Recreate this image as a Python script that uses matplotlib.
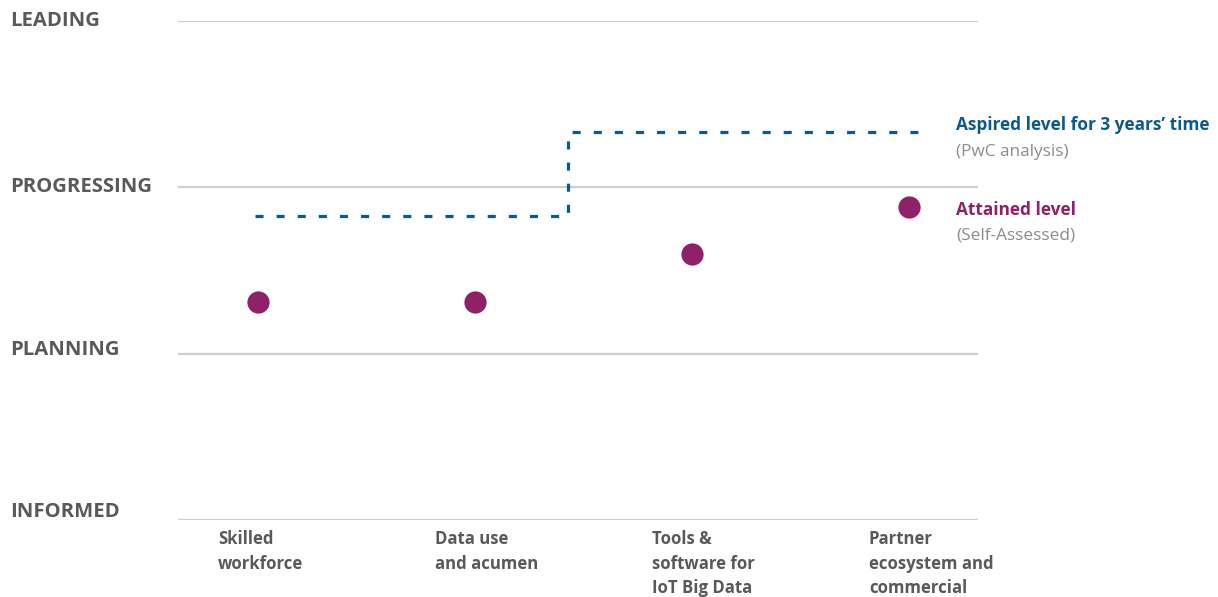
import matplotlib
matplotlib.use("Agg")
import matplotlib.pyplot as plt
import matplotlib.transforms as mtransforms

plt.rcParams['font.family'] = ['Open Sans', 'DejaVu Sans']
plt.rcParams['lines.scale_dashes'] = False

# Maturity scale and capability areas
levels = ["INFORMED", "PLANNING", "PROGRESSING", "LEADING"]
categories = ["Skilled\nworkforce", "Data use\nand acumen",
              "Tools &\nsoftware for\nIoT Big Data",
              "Partner\necosystem and\ncommercial"]
attained = [1.31, 1.31, 1.60, 1.88]
aspired = [1.83, 1.83, 2.33, 2.33]

PURPLE = "#8E2167"
BLUE = "#0B5A8C"
DARK = "#58595B"
LIGHT = "#8C8C8C"
GRID = "#CFCFCF"

W, H = 1218, 597
fig = plt.figure(figsize=(W / 100, H / 100), dpi=100)

# axes spans the plotting band between the level lines
left_px, right_px = 178, 978
top_px, bottom_px = 21, 520
ax = fig.add_axes([left_px / W, 1 - bottom_px / H,
                   (right_px - left_px) / W, (bottom_px - top_px) / H])
ax.set_xlim(-80 / 217, 720 / 217)
ax.set_ylim(0, 3)
ax.axis("off")

# horizontal level lines
for i in range(len(levels)):
    ax.axhline(i, color=GRID, lw=1.6, zorder=1)

# level labels at the left edge of the figure
blend = mtransforms.blended_transform_factory(fig.transFigure, ax.transData)
label_shift = [0.05, 0.02, 0.0, 0.0]
for i, name in enumerate(levels):
    ax.text(10 / W, i + label_shift[i], name, transform=blend, ha="left",
            va="center", fontsize=14.6, fontweight="bold", color=DARK,
            clip_on=False)

# aspired level as a stepped dashed line
xs = list(range(len(categories)))
step_at = 1.43
x_line = [xs[0] - 0.015, step_at, step_at, xs[-1] + 0.05]
y_line = [aspired[1], aspired[1], aspired[2], aspired[3]]
line, = ax.plot(x_line, y_line, color=BLUE, lw=2.3, zorder=2,
                solid_joinstyle="miter")
line.set_dashes((5.8, 9.4))
line.set_dash_capstyle("butt")

# attained level markers
ax.plot(xs, attained, "o", color=PURPLE, ms=16, mec="none", zorder=3)

# category labels below the axis
for x, cat in zip(xs, categories):
    ax.annotate(cat, xy=(x, 0), xytext=(-40, -10), textcoords="offset pixels",
                ha="left", va="top", fontsize=12.1, fontweight="bold",
                color=DARK, linespacing=1.47, annotation_clip=False)

# legend annotations on the right
legend_items = [
    ("Aspired level for 3 years\u2019 time", 125, "bold", BLUE, aspired[-1]),
    ("(PwC analysis)", 152, "normal", LIGHT, aspired[-1]),
    ("Attained level", 210, "bold", PURPLE, attained[-1]),
    ("(Self-Assessed)", 236, "normal", LIGHT, attained[-1]),
]
for text, ypx, weight, color, yv in legend_items:
    ax.annotate(text, xy=(xs[-1], yv), xytext=(956, H - ypx),
                textcoords="figure pixels", ha="left", va="center",
                fontsize=12.4, fontweight=weight, color=color,
                annotation_clip=False)

fig.savefig("out.png", dpi=100, facecolor="white")
